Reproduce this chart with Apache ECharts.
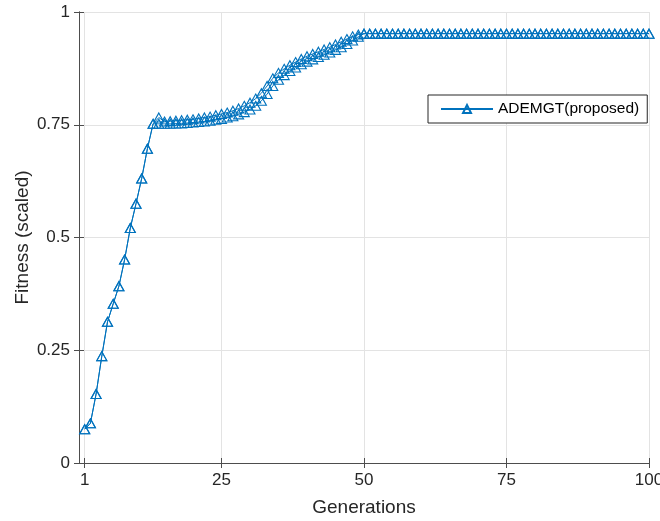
<!DOCTYPE html>
<html>
<head>
<meta charset="utf-8">
<script src="https://cdn.jsdelivr.net/npm/echarts@6/dist/echarts.min.js"></script>
<style>
  html, body { margin: 0; padding: 0; background: #fff; }
  #chart { width: 660px; height: 521px; }
</style>
</head>
<body>
<div id="chart"></div>
<script>
/* 数据 */
const generations = [
  1, 2, 3, 4, 5, 6, 7, 8, 9, 10, 11, 12, 13, 14, 15, 16, 17, 18, 19, 20,
  21, 22, 23, 24, 25, 26, 27, 28, 29, 30, 31, 32, 33, 34, 35, 36, 37, 38, 39, 40,
  41, 42, 43, 44, 45, 46, 47, 48, 49, 50, 51, 52, 53, 54, 55, 56, 57, 58, 59, 60,
  61, 62, 63, 64, 65, 66, 67, 68, 69, 70, 71, 72, 73, 74, 75, 76, 77, 78, 79, 80,
  81, 82, 83, 84, 85, 86, 87, 88, 89, 90, 91, 92, 93, 94, 95, 96, 97, 98, 99, 100
];
// upper run (legend entry)
const fitnessA = [
  0.075, 0.088, 0.153, 0.237, 0.313, 0.353, 0.392, 0.451, 0.521, 0.575,
  0.631, 0.697, 0.752, 0.766, 0.757, 0.758, 0.759, 0.760, 0.761, 0.762,
  0.764, 0.766, 0.768, 0.771, 0.774, 0.777, 0.781, 0.786, 0.792, 0.799,
  0.808, 0.820, 0.836, 0.853, 0.865, 0.874, 0.882, 0.889, 0.896, 0.902,
  0.907, 0.912, 0.917, 0.922, 0.928, 0.934, 0.940, 0.946, 0.950, 0.952,
  0.952, 0.952, 0.952, 0.952, 0.952, 0.952, 0.952, 0.952, 0.952, 0.952,
  0.952, 0.952, 0.952, 0.952, 0.952, 0.952, 0.952, 0.952, 0.952, 0.952,
  0.952, 0.952, 0.952, 0.952, 0.952, 0.952, 0.952, 0.952, 0.952, 0.952,
  0.952, 0.952, 0.952, 0.952, 0.952, 0.952, 0.952, 0.952, 0.952, 0.952,
  0.952, 0.952, 0.952, 0.952, 0.952, 0.952, 0.952, 0.952, 0.952, 0.952
];
// lower run (same style, not in legend)
const fitnessB = [
  0.075, 0.088, 0.153, 0.237, 0.313, 0.353, 0.392, 0.451, 0.521, 0.575,
  0.631, 0.697, 0.752, 0.752, 0.752, 0.752, 0.753, 0.753, 0.754, 0.755,
  0.756, 0.757, 0.759, 0.761, 0.763, 0.766, 0.769, 0.773, 0.778, 0.784,
  0.792, 0.803, 0.818, 0.836, 0.850, 0.860, 0.869, 0.877, 0.884, 0.890,
  0.895, 0.900, 0.905, 0.910, 0.916, 0.922, 0.929, 0.937, 0.945, 0.952,
  0.952, 0.952, 0.952, 0.952, 0.952, 0.952, 0.952, 0.952, 0.952, 0.952,
  0.952, 0.952, 0.952, 0.952, 0.952, 0.952, 0.952, 0.952, 0.952, 0.952,
  0.952, 0.952, 0.952, 0.952, 0.952, 0.952, 0.952, 0.952, 0.952, 0.952,
  0.952, 0.952, 0.952, 0.952, 0.952, 0.952, 0.952, 0.952, 0.952, 0.952,
  0.952, 0.952, 0.952, 0.952, 0.952, 0.952, 0.952, 0.952, 0.952, 0.952
];
const xTicks = [1, 25, 50, 75, 100];

const lineColor = '#0072BD';
const axisColor = '#4d4d4d';
const textColor = '#262626';
const gridColor = '#e3e3e3';
const font = 'Liberation Sans, Arial, sans-serif';

function makeSeries(name, values) {
    return {
        name: name,
        type: 'line',
        data: generations.map((g, i) => [g, values[i]]),
        symbol: 'triangle',
        symbolSize: [10, 9],
        lineStyle: { color: lineColor, width: 1 },
        itemStyle: { color: 'rgba(0,0,0,0)', borderColor: lineColor, borderWidth: 1.1 },
        emphasis: { disabled: true },
        animation: false
    };
}

var chart = echarts.init(document.getElementById('chart'));
var option = {
    backgroundColor: '#fff',
    textStyle: { fontFamily: font },
    grid: { left: 79, right: 11, top: 12, bottom: 58, containLabel: false, outerBoundsMode: 'none' },
    legend: {
        data: ['ADEMGT(proposed)'],
        left: 428,
        top: 95,
        padding: [6, 8, 6, 12],
        itemWidth: 52,
        itemHeight: 10,
        borderColor: textColor,
        borderWidth: 1,
        backgroundColor: '#fff',
        textStyle: { fontSize: 15.5, color: '#000', fontFamily: font }
    },
    xAxis: [
        {
            type: 'value', min: 0, max: 100, position: 'bottom',
            name: 'Generations', nameLocation: 'middle', nameGap: 35, nameMoveOverlap: false,
            nameTextStyle: { fontSize: 19, color: textColor, fontFamily: font },
            axisLine: { show: true, lineStyle: { color: axisColor, width: 1 } },
            axisTick: { show: true, inside: true, length: 5, customValues: xTicks, lineStyle: { color: axisColor } },
            axisLabel: { customValues: xTicks, fontSize: 17, color: textColor, margin: 9, fontFamily: font },
            splitLine: { show: true, lineStyle: { color: gridColor, width: 1 } }
        },
        {
            type: 'value', min: 0, max: 100, position: 'top',
            axisLine: { show: true, lineStyle: { color: axisColor, width: 1 } },
            axisTick: { show: true, inside: true, length: 5, customValues: xTicks, lineStyle: { color: axisColor } },
            axisLabel: { show: false },
            splitLine: { show: false }
        }
    ],
    yAxis: [
        {
            type: 'value', min: 0, max: 1, interval: 0.25, position: 'left',
            name: 'Fitness (scaled)', nameLocation: 'middle', nameGap: 47, nameMoveOverlap: false,
            nameTextStyle: { fontSize: 19, color: textColor, fontFamily: font },
            axisLine: { show: true, lineStyle: { color: axisColor, width: 1 } },
            axisTick: { show: true, inside: true, length: 5, lineStyle: { color: axisColor } },
            axisLabel: { fontSize: 17, color: textColor, margin: 9, fontFamily: font },
            splitLine: { show: true, lineStyle: { color: gridColor, width: 1 } }
        },
        {
            type: 'value', min: 0, max: 1, interval: 0.25, position: 'right',
            axisLine: { show: true, lineStyle: { color: axisColor, width: 1 } },
            axisTick: { show: true, inside: true, length: 5, lineStyle: { color: axisColor } },
            axisLabel: { show: false },
            splitLine: { show: false }
        }
    ],
    series: [
        makeSeries('ADEMGT(proposed)', fitnessA),
        makeSeries('run 2', fitnessB)
    ]
};
chart.setOption(option);

window.addEventListener('resize', function () {
    chart.resize();
});
</script>
</body>
</html>
